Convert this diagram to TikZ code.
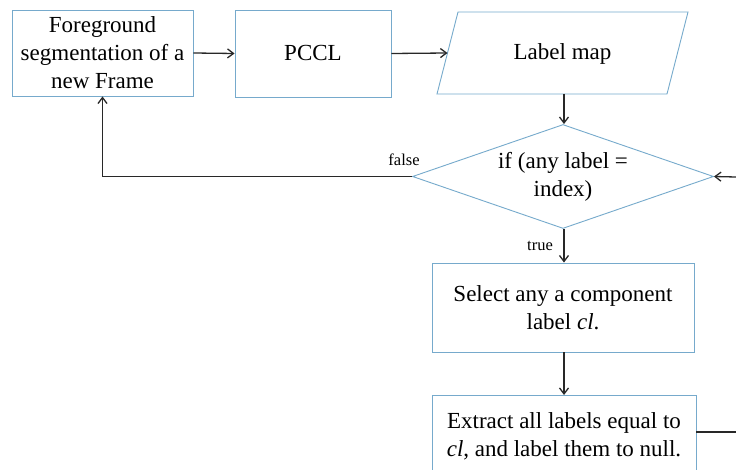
\documentclass[tikz,border=0pt]{standalone}
\usepackage{fontspec}
\setmainfont{Liberation Serif}
\usetikzlibrary{arrows.meta,shapes.geometric}

\definecolor{boxline}{RGB}{118,170,204}
\definecolor{flowline}{RGB}{40,40,40}

\tikzset{
  procbox/.style={draw=boxline, line width=0.9pt, fill=white, align=center,
    inner sep=0pt, font=\fontsize{23}{28}\selectfont},
  decision/.style={diamond, aspect=2.9, draw=boxline, line width=0.9pt, inner sep=0pt,
    align=center, font=\fontsize{23}{28}\selectfont},
  flow/.style={draw=flowline, line width=1.3pt},
  arrow/.style={flow, -{Straight Barb[length=6pt,width=9pt]}},
  branch/.style={font=\fontsize{16.5}{20}\selectfont, text=black, inner sep=0pt}
}

\begin{document}
\begin{tikzpicture}[x=1pt,y=-1pt]
  \useasboundingbox (0,0) rectangle (736,470);
  \clip (0,0) rectangle (736,470);
  \fill[white] (0,0) rectangle (736,470);

  % top row
  \node[procbox, minimum width=181pt, minimum height=86pt] (fg) at (102.5,53)
    {Foreground\\segmentation of a\\new Frame};
  \node[procbox, minimum width=156pt, minimum height=87pt] (pccl) at (313,53.5) {PCCL};

  % label map (data parallelogram)
  \draw[boxline, line width=0.9pt, fill=white]
    (458,12) -- (688,12) -- (667,94) -- (437,94) -- cycle;
  \node[font=\fontsize{23}{28}\selectfont, inner sep=0pt] (map) at (562.5,54) {Label map};
  \coordinate (mapW) at (447.5,53);
  \coordinate (mapS) at (564,94);

  % decision
  \node[decision, minimum width=301pt, minimum height=104pt] (dec) at (563,176.5)
    {if (any label =\\index)};

  % processing steps
  \node[procbox, minimum width=262pt, minimum height=89pt] (sel) at (563,307.5)
    {Select any a component\\label \textit{cl}.};
  \node[procbox, minimum width=264pt, minimum height=82pt, anchor=north] (ext) at (564,395)
    {};
  \node[font=\fontsize{23}{28}\selectfont, align=center, inner sep=0pt] (extT) at (564,436)
    {Extract all labels equal to\\\textit{cl}, and label them to null.};

  \coordinate (inR) at (736,177);
  \coordinate (outR) at (736,432);

  % connectors
  \draw[arrow] (fg.east) -- (pccl.west);
  \draw[arrow] (pccl.east) -- (mapW);
  \draw[arrow] (mapS) -- (dec.north -| mapS);
  \draw[arrow] (dec.west) -| (fg.south);
  \draw[arrow] (inR) -- (dec.east);
  \draw[arrow] (dec.south -| mapS) -- (sel.north -| mapS);
  \draw[arrow] (sel.south -| mapS) -- (ext.north -| mapS);
  \draw[flow] (outR -| ext.east) -- (outR);

  % branch labels
  \node[branch] (fl) at (404,160) {false};
  \node[branch] (tl) at (540,246) {true};
\end{tikzpicture}
\end{document}
